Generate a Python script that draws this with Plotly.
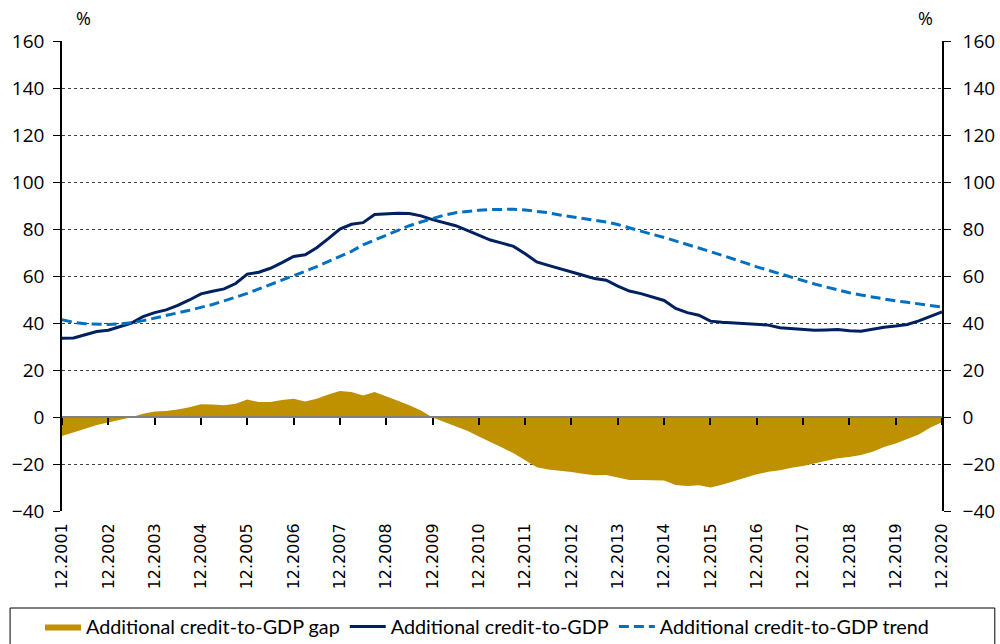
import plotly.graph_objects as go

# Quarterly labels 12.2001 .. 12.2020
months = ["03", "06", "09", "12"]
quarters = ["12.2001"] + [f"{m}.{y}" for y in range(2002, 2021) for m in months]
year_labels = [f"12.{y}" for y in range(2001, 2021)]

credit_to_gdp = [
    33.5, 33.6, 35.0, 36.4, 36.9, 38.3, 40.0, 42.7, 44.4, 45.6,
    47.5, 49.8, 52.4, 53.5, 54.5, 56.8, 60.8, 61.6, 63.3, 65.7,
    68.3, 69.0, 72.0, 75.9, 80.0, 82.0, 82.7, 86.2, 86.6, 86.7,
    86.6, 85.6, 84.0, 82.8, 81.4, 79.4, 77.4, 75.3, 74.0, 72.6,
    69.5, 66.0, 64.5, 63.2, 61.8, 60.3, 58.9, 58.2, 55.7, 53.6,
    52.5, 51.1, 49.6, 46.2, 44.4, 43.3, 40.8, 40.3, 40.0, 39.7,
    39.5, 39.1, 38.0, 37.7, 37.2, 36.9, 37.0, 37.2, 36.7, 36.5,
    37.3, 38.2, 38.7, 39.4, 40.9, 42.7, 44.7,
]

credit_to_gdp_trend = [
    41.4, 40.3, 39.7, 39.4, 39.4, 39.6, 40.1, 41.0, 42.0, 43.1,
    44.3, 45.4, 46.5, 47.9, 49.4, 50.9, 52.6, 54.5, 56.3, 58.2,
    60.1, 62.0, 64.0, 66.2, 68.3, 70.5, 73.3, 75.4, 77.4, 79.6,
    81.4, 83.0, 84.6, 85.9, 86.9, 87.6, 88.0, 88.3, 88.4, 88.4,
    88.1, 87.6, 86.9, 86.0, 85.3, 84.6, 83.9, 83.0, 81.9, 80.4,
    79.1, 77.7, 76.4, 75.0, 73.5, 71.9, 70.4, 68.9, 67.4, 65.6,
    63.9, 62.4, 60.9, 59.4, 57.9, 56.6, 55.3, 54.0, 52.9, 51.9,
    51.0, 50.1, 49.4, 48.8, 48.1, 47.4, 46.8,
]

credit_to_gdp_gap = [
    -8.1, -6.7, -5.0, -3.4, -2.4, -1.3, -0.1, 1.4, 2.3, 2.6,
    3.2, 4.2, 5.4, 5.3, 5.0, 5.6, 7.4, 6.4, 6.4, 7.2,
    7.8, 6.6, 7.8, 9.6, 11.1, 10.6, 9.2, 10.6, 8.6, 6.9,
    5.0, 2.8, -0.2, -2.0, -3.8, -5.9, -8.3, -10.8, -13.0, -15.4,
    -18.5, -21.4, -22.3, -22.7, -23.4, -24.1, -24.8, -24.7, -25.8, -26.8,
    -26.8, -26.8, -27.0, -28.9, -29.4, -29.0, -30.0, -28.8, -27.2, -25.8,
    -24.4, -23.3, -22.7, -21.6, -20.9, -19.9, -18.7, -17.6, -17.0, -16.2,
    -14.8, -12.8, -11.3, -9.5, -7.4, -4.5, -2.2,
]

y_ticks = [-40, -20, 0, 20, 40, 60, 80, 100, 120, 140, 160]

GOLD = "#BF9000"
NAVY = "#002060"
BLUE = "#0070C0"
tick_font = dict(family="Open Sans", size=19, color="#000000")

fig = go.Figure()
fig.add_trace(go.Scatter(
    x=quarters, y=credit_to_gdp_gap, name="Additional credit-to-GDP gap",
    mode="lines", fill="tozeroy", fillcolor=GOLD,
    line=dict(color=GOLD, width=0), xaxis="x", yaxis="y",
))
fig.add_trace(go.Scatter(
    x=quarters, y=credit_to_gdp, name="Additional credit-to-GDP",
    mode="lines", line=dict(color=NAVY, width=3), xaxis="x", yaxis="y",
))
fig.add_trace(go.Scatter(
    x=quarters, y=credit_to_gdp_trend, name="Additional credit-to-GDP trend",
    mode="lines", line=dict(color=BLUE, width=3, dash="10px,5px"), xaxis="x", yaxis="y",
))
# invisible helper trace so the right-hand axis and the zero-line tick axis are drawn
fig.add_trace(go.Scatter(
    x=quarters, y=credit_to_gdp_gap, mode="lines", opacity=0,
    line=dict(width=0), showlegend=False, hoverinfo="skip",
    xaxis="x2", yaxis="y2",
))

fig.update_layout(
    width=1000, height=644,
    margin=dict(l=62, r=58, t=41, b=133, autoexpand=False),
    paper_bgcolor="white", plot_bgcolor="white",
    showlegend=True,
    xaxis=dict(
        type="category", categoryorder="array", categoryarray=quarters,
        range=[0, len(quarters) - 1],
        tickvals=year_labels, ticktext=year_labels,
        tickangle=-90, ticks="", showgrid=False, showline=False, zeroline=False,
        tickfont=dict(family="DejaVu Sans", size=16, color="#000000"),
        ticklabelstandoff=8, automargin=False,
    ),
    xaxis2=dict(
        type="category", categoryorder="array", categoryarray=quarters,
        range=[0, len(quarters) - 1],
        tickvals=year_labels, overlaying="x", anchor="free", position=0.2,
        ticks="outside", ticklen=7, tickwidth=1.5, tickcolor="#000000",
        showticklabels=False, showgrid=False, zeroline=False,
        showline=True, linecolor="#808080", linewidth=2, automargin=False,
    ),
    yaxis=dict(
        range=[-40, 160], tickvals=y_ticks,
        showgrid=True, gridcolor="#404040", griddash="dot", gridwidth=1,
        zeroline=False, showline=True, linecolor="#000000", linewidth=1.5,
        ticks="outside", ticklen=7, tickcolor="#000000",
        tickfont=tick_font, ticklabelstandoff=5, automargin=False,
    ),
    yaxis2=dict(
        range=[-40, 160], tickvals=y_ticks, overlaying="y", side="right",
        anchor="x",
        showgrid=False, zeroline=False, showline=True, linecolor="#000000", linewidth=1.5,
        ticks="outside", ticklen=7, tickcolor="#000000",
        tickfont=tick_font, ticklabelstandoff=8, automargin=False,
    ),
    legend=dict(
        orientation="h", xref="paper", yref="paper",
        x=-0.025, xanchor="left", y=-0.2043, yanchor="top",
        borderwidth=0, bgcolor="rgba(0,0,0,0)",
        font=dict(family="Lato", size=19.8, color="#000000"),
        itemwidth=36, tracegroupgap=0,
    ),
    shapes=[
        dict(type="rect", xref="paper", yref="paper",
             x0=-0.059, x1=1.060, y0=-0.30, y1=-0.2064,
             line=dict(color="#000000", width=1), fillcolor="rgba(0,0,0,0)", layer="below"),
    ],
    annotations=[
        dict(text="%", xref="paper", yref="paper", x=0.014, y=1.0, yanchor="bottom",
             showarrow=False, yshift=9, font=dict(family="Open Sans", size=18, color="#000000")),
        dict(text="%", xref="paper", yref="paper", x=0.9925, y=1.0, yanchor="bottom",
             showarrow=False, yshift=9, font=dict(family="Open Sans", size=18, color="#000000")),
    ],
)

fig.write_html(
    "out.html",
    config={"displayModeBar": False},
    post_script="document.body.style.margin='0';document.body.style.overflow='hidden';",
)
